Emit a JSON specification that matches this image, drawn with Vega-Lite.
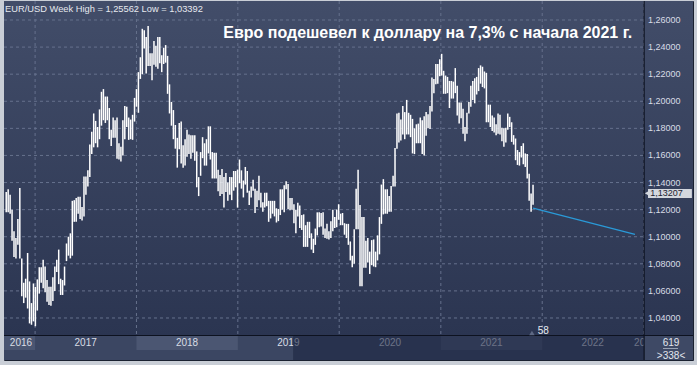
{
  "$schema": "https://vega.github.io/schema/vega-lite/v6.json",
  "width": 689,
  "height": 359,
  "autosize": {"type": "none"},
  "padding": {"left": 4, "top": 1, "right": 4, "bottom": 5},
  "background": "#c9ced6",
  "config": {"view": {"stroke": "#1a2130", "strokeWidth": 1}},
  "datasets": {
    "bars": [
      {"d":"2016-09-19","h":1.133,"l":1.118},{"d":"2016-09-26","h":1.135,"l":1.118},{"d":"2016-10-03","h":1.131,"l":1.117},{"d":"2016-10-10","h":1.120,"l":1.097},{"d":"2016-10-17","h":1.104,"l":1.085},{"d":"2016-10-24","h":1.099,"l":1.084},{"d":"2016-10-31","h":1.113,"l":1.094},{"d":"2016-11-07","h":1.136,"l":1.084},{"d":"2016-11-14","h":1.084,"l":1.056},{"d":"2016-11-21","h":1.066,"l":1.051},{"d":"2016-11-28","h":1.069,"l":1.055},{"d":"2016-12-05","h":1.088,"l":1.047},{"d":"2016-12-12","h":1.067,"l":1.036},{"d":"2016-12-19","h":1.051,"l":1.035},{"d":"2016-12-26","h":1.0655,"l":1.0375},
      {"d":"2017-01-02","h":1.063,"l":1.0339},{"d":"2017-01-09","h":1.0685,"l":1.0455},{"d":"2017-01-16","h":1.0775,"l":1.058},{"d":"2017-01-23","h":1.0775,"l":1.066},{"d":"2017-01-30","h":1.083,"l":1.062},{"d":"2017-02-06","h":1.078,"l":1.059},{"d":"2017-02-13","h":1.068,"l":1.052},{"d":"2017-02-20","h":1.063,"l":1.0495},{"d":"2017-02-27","h":1.063,"l":1.049},{"d":"2017-03-06","h":1.07,"l":1.0525},{"d":"2017-03-13","h":1.078,"l":1.06},{"d":"2017-03-20","h":1.083,"l":1.074},{"d":"2017-03-27","h":1.0905,"l":1.065},{"d":"2017-04-03","h":1.069,"l":1.057},{"d":"2017-04-10","h":1.068,"l":1.057},{"d":"2017-04-17","h":1.078,"l":1.064},{"d":"2017-04-24","h":1.095,"l":1.082},{"d":"2017-05-01","h":1.1,"l":1.086},{"d":"2017-05-08","h":1.1025,"l":1.084},{"d":"2017-05-15","h":1.1265,"l":1.086},{"d":"2017-05-22","h":1.127,"l":1.111},{"d":"2017-05-29","h":1.1285,"l":1.111},{"d":"2017-06-05","h":1.1295,"l":1.117},{"d":"2017-06-12","h":1.1295,"l":1.113},{"d":"2017-06-19","h":1.122,"l":1.112},{"d":"2017-06-26","h":1.1445,"l":1.115},{"d":"2017-07-03","h":1.1445,"l":1.131},{"d":"2017-07-10","h":1.149,"l":1.137},{"d":"2017-07-17","h":1.168,"l":1.144},{"d":"2017-07-24","h":1.1775,"l":1.161},{"d":"2017-07-31","h":1.191,"l":1.166},{"d":"2017-08-07","h":1.1855,"l":1.169},{"d":"2017-08-14","h":1.181,"l":1.166},{"d":"2017-08-21","h":1.194,"l":1.172},{"d":"2017-08-28","h":1.207,"l":1.182},{"d":"2017-09-04","h":1.209,"l":1.186},{"d":"2017-09-11","h":1.2035,"l":1.184},{"d":"2017-09-18","h":1.2035,"l":1.186},{"d":"2017-09-25","h":1.195,"l":1.172},{"d":"2017-10-02","h":1.179,"l":1.167},{"d":"2017-10-09","h":1.188,"l":1.173},{"d":"2017-10-16","h":1.186,"l":1.173},{"d":"2017-10-23","h":1.188,"l":1.1575},{"d":"2017-10-30","h":1.169,"l":1.157},{"d":"2017-11-06","h":1.1665,"l":1.1555},{"d":"2017-11-13","h":1.186,"l":1.16},{"d":"2017-11-20","h":1.1965,"l":1.172},{"d":"2017-11-27","h":1.196,"l":1.181},{"d":"2017-12-04","h":1.188,"l":1.1715},{"d":"2017-12-11","h":1.1865,"l":1.172},{"d":"2017-12-18","h":1.19,"l":1.1715},{"d":"2017-12-25","h":1.2025,"l":1.185},
      {"d":"2018-01-01","h":1.209,"l":1.196},{"d":"2018-01-08","h":1.2215,"l":1.1915},{"d":"2018-01-15","h":1.2325,"l":1.2165},{"d":"2018-01-22","h":1.2535,"l":1.22},{"d":"2018-01-29","h":1.2525,"l":1.239},{"d":"2018-02-05","h":1.2475,"l":1.2205},{"d":"2018-02-12","h":1.2556,"l":1.226},{"d":"2018-02-19","h":1.2355,"l":1.226},{"d":"2018-02-26","h":1.2355,"l":1.2155},{"d":"2018-03-05","h":1.2445,"l":1.227},{"d":"2018-03-12","h":1.241,"l":1.2255},{"d":"2018-03-19","h":1.2475,"l":1.224},{"d":"2018-03-26","h":1.2475,"l":1.228},{"d":"2018-04-02","h":1.234,"l":1.2215},{"d":"2018-04-09","h":1.2395,"l":1.2275},{"d":"2018-04-16","h":1.2415,"l":1.2285},{"d":"2018-04-23","h":1.2335,"l":1.2055},{"d":"2018-04-30","h":1.2125,"l":1.191},{"d":"2018-05-07","h":1.1995,"l":1.182},{"d":"2018-05-14","h":1.1935,"l":1.172},{"d":"2018-05-21","h":1.1825,"l":1.165},{"d":"2018-05-28","h":1.173,"l":1.151},{"d":"2018-06-04","h":1.184,"l":1.1645},{"d":"2018-06-11","h":1.185,"l":1.154},{"d":"2018-06-18","h":1.1675,"l":1.151},{"d":"2018-06-25","h":1.172,"l":1.1525},{"d":"2018-07-02","h":1.179,"l":1.159},{"d":"2018-07-09","h":1.1755,"l":1.161},{"d":"2018-07-16","h":1.175,"l":1.1575},{"d":"2018-07-23","h":1.175,"l":1.162},{"d":"2018-07-30","h":1.175,"l":1.156},{"d":"2018-08-06","h":1.163,"l":1.1365},{"d":"2018-08-13","h":1.144,"l":1.13},{"d":"2018-08-20","h":1.1625,"l":1.145},{"d":"2018-08-27","h":1.1735,"l":1.158},{"d":"2018-09-03","h":1.169,"l":1.1525},{"d":"2018-09-10","h":1.172,"l":1.1525},{"d":"2018-09-17","h":1.1815,"l":1.1615},{"d":"2018-09-24","h":1.1815,"l":1.157},{"d":"2018-10-01","h":1.1625,"l":1.143},{"d":"2018-10-08","h":1.162,"l":1.143},{"d":"2018-10-15","h":1.162,"l":1.143},{"d":"2018-10-22","h":1.1495,"l":1.1335},{"d":"2018-10-29","h":1.1455,"l":1.13},{"d":"2018-11-05","h":1.15,"l":1.1315},{"d":"2018-11-12","h":1.144,"l":1.1215},{"d":"2018-11-19","h":1.147,"l":1.133},{"d":"2018-11-26","h":1.14,"l":1.1265},{"d":"2018-12-03","h":1.144,"l":1.131},{"d":"2018-12-10","h":1.144,"l":1.127},{"d":"2018-12-17","h":1.1485,"l":1.134},{"d":"2018-12-24","h":1.1485,"l":1.1365},{"d":"2018-12-31","h":1.1495,"l":1.1215},
      {"d":"2019-01-07","h":1.157,"l":1.1395},{"d":"2019-01-14","h":1.149,"l":1.1355},{"d":"2019-01-21","h":1.1415,"l":1.129},{"d":"2019-01-28","h":1.1515,"l":1.1385},{"d":"2019-02-04","h":1.1485,"l":1.1325},{"d":"2019-02-11","h":1.134,"l":1.1235},{"d":"2019-02-18","h":1.137,"l":1.129},{"d":"2019-02-25","h":1.142,"l":1.134},{"d":"2019-03-04","h":1.1355,"l":1.1175},{"d":"2019-03-11","h":1.134,"l":1.122},{"d":"2019-03-18","h":1.145,"l":1.127},{"d":"2019-03-25","h":1.1325,"l":1.1215},{"d":"2019-04-01","h":1.1255,"l":1.1185},{"d":"2019-04-08","h":1.1325,"l":1.1215},{"d":"2019-04-15","h":1.1325,"l":1.1225},{"d":"2019-04-22","h":1.1265,"l":1.111},{"d":"2019-04-29","h":1.1265,"l":1.1135},{"d":"2019-05-06","h":1.1265,"l":1.117},{"d":"2019-05-13","h":1.1265,"l":1.115},{"d":"2019-05-20","h":1.121,"l":1.1105},{"d":"2019-05-27","h":1.1205,"l":1.1115},{"d":"2019-06-03","h":1.135,"l":1.116},{"d":"2019-06-10","h":1.135,"l":1.12},{"d":"2019-06-17","h":1.138,"l":1.118},{"d":"2019-06-24","h":1.141,"l":1.135},{"d":"2019-07-01","h":1.139,"l":1.1205},{"d":"2019-07-08","h":1.1285,"l":1.1195},{"d":"2019-07-15","h":1.1285,"l":1.12},{"d":"2019-07-22","h":1.124,"l":1.11},{"d":"2019-07-29","h":1.12,"l":1.1025},{"d":"2019-08-05","h":1.125,"l":1.115},{"d":"2019-08-12","h":1.123,"l":1.1065},{"d":"2019-08-19","h":1.116,"l":1.105},{"d":"2019-08-26","h":1.1165,"l":1.0925},{"d":"2019-09-02","h":1.1085,"l":1.0925},{"d":"2019-09-09","h":1.111,"l":1.0925},{"d":"2019-09-16","h":1.111,"l":1.099},{"d":"2019-09-23","h":1.1025,"l":1.0905},{"d":"2019-09-30","h":1.0985,"l":1.088},{"d":"2019-10-07","h":1.106,"l":1.094},{"d":"2019-10-14","h":1.118,"l":1.101},{"d":"2019-10-21","h":1.118,"l":1.107},{"d":"2019-10-28","h":1.1175,"l":1.1075},{"d":"2019-11-04","h":1.118,"l":1.1015},{"d":"2019-11-11","h":1.106,"l":1.099},{"d":"2019-11-18","h":1.1095,"l":1.0985},{"d":"2019-11-25","h":1.104,"l":1.098},{"d":"2019-12-02","h":1.1115,"l":1.099},{"d":"2019-12-09","h":1.12,"l":1.104},{"d":"2019-12-16","h":1.1145,"l":1.1065},{"d":"2019-12-23","h":1.12,"l":1.107},{"d":"2019-12-30","h":1.124,"l":1.1125},
      {"d":"2020-01-06","h":1.117,"l":1.1085},{"d":"2020-01-13","h":1.1175,"l":1.1085},{"d":"2020-01-20","h":1.11,"l":1.1015},{"d":"2020-01-27","h":1.1095,"l":1.099},{"d":"2020-02-03","h":1.1095,"l":1.094},{"d":"2020-02-10","h":1.0965,"l":1.0825},{"d":"2020-02-17","h":1.086,"l":1.0775},{"d":"2020-02-24","h":1.1055,"l":1.08},{"d":"2020-03-02","h":1.1355,"l":1.1055},{"d":"2020-03-09","h":1.1495,"l":1.1055},{"d":"2020-03-16","h":1.1235,"l":1.0635},{"d":"2020-03-23","h":1.1145,"l":1.0635},{"d":"2020-03-30","h":1.1145,"l":1.077},{"d":"2020-04-06","h":1.097,"l":1.077},{"d":"2020-04-13","h":1.099,"l":1.081},{"d":"2020-04-20","h":1.089,"l":1.0725},{"d":"2020-04-27","h":1.0975,"l":1.079},{"d":"2020-05-04","h":1.098,"l":1.078},{"d":"2020-05-11","h":1.089,"l":1.0775},{"d":"2020-05-18","h":1.101,"l":1.0825},{"d":"2020-05-25","h":1.1145,"l":1.087},{"d":"2020-06-01","h":1.1385,"l":1.1095},{"d":"2020-06-08","h":1.1425,"l":1.1165},{"d":"2020-06-15","h":1.135,"l":1.117},{"d":"2020-06-22","h":1.135,"l":1.117},{"d":"2020-06-29","h":1.13,"l":1.1185},{"d":"2020-07-06","h":1.1375,"l":1.1185},{"d":"2020-07-13","h":1.145,"l":1.137},{"d":"2020-07-20","h":1.1655,"l":1.137},{"d":"2020-07-27","h":1.191,"l":1.165},{"d":"2020-08-03","h":1.1915,"l":1.1695},{"d":"2020-08-10","h":1.1865,"l":1.171},{"d":"2020-08-17","h":1.1965,"l":1.1755},{"d":"2020-08-24","h":1.192,"l":1.172},{"d":"2020-08-31","h":1.201,"l":1.1755},{"d":"2020-09-07","h":1.1915,"l":1.1755},{"d":"2020-09-14","h":1.19,"l":1.1735},{"d":"2020-09-21","h":1.187,"l":1.1615},{"d":"2020-09-28","h":1.18,"l":1.161},{"d":"2020-10-05","h":1.183,"l":1.169},{"d":"2020-10-12","h":1.1835,"l":1.169},{"d":"2020-10-19","h":1.188,"l":1.169},{"d":"2020-10-26","h":1.186,"l":1.161},{"d":"2020-11-02","h":1.189,"l":1.16},{"d":"2020-11-09","h":1.192,"l":1.1745},{"d":"2020-11-16","h":1.1905,"l":1.18},{"d":"2020-11-23","h":1.1965,"l":1.1795},{"d":"2020-11-30","h":1.2175,"l":1.1925},{"d":"2020-12-07","h":1.2165,"l":1.206},{"d":"2020-12-14","h":1.2275,"l":1.2125},{"d":"2020-12-21","h":1.2275,"l":1.213},{"d":"2020-12-28","h":1.231,"l":1.2185},
      {"d":"2021-01-04","h":1.235,"l":1.219},{"d":"2021-01-11","h":1.2225,"l":1.2055},{"d":"2021-01-18","h":1.219,"l":1.2055},{"d":"2021-01-25","h":1.218,"l":1.206},{"d":"2021-02-01","h":1.215,"l":1.195},{"d":"2021-02-08","h":1.215,"l":1.202},{"d":"2021-02-15","h":1.2145,"l":1.202},{"d":"2021-02-22","h":1.2245,"l":1.206},{"d":"2021-03-01","h":1.2115,"l":1.1895},{"d":"2021-03-08","h":1.199,"l":1.1835},{"d":"2021-03-15","h":1.199,"l":1.1875},{"d":"2021-03-22","h":1.1945,"l":1.176},{"d":"2021-03-29","h":1.181,"l":1.1705},{"d":"2021-04-05","h":1.1915,"l":1.176},{"d":"2021-04-12","h":1.1995,"l":1.191},{"d":"2021-04-19","h":1.2115,"l":1.196},{"d":"2021-04-26","h":1.215,"l":1.201},{"d":"2021-05-03","h":1.217,"l":1.1985},{"d":"2021-05-10","h":1.218,"l":1.205},{"d":"2021-05-17","h":1.2245,"l":1.2075},{"d":"2021-05-24","h":1.2265,"l":1.213},{"d":"2021-05-31","h":1.2255,"l":1.2105},{"d":"2021-06-07","h":1.222,"l":1.2095},{"d":"2021-06-14","h":1.221,"l":1.1845},{"d":"2021-06-21","h":1.1975,"l":1.1845},{"d":"2021-06-28","h":1.1975,"l":1.181},{"d":"2021-07-05","h":1.1895,"l":1.178},{"d":"2021-07-12","h":1.188,"l":1.177},{"d":"2021-07-19","h":1.183,"l":1.175},{"d":"2021-07-26","h":1.191,"l":1.176},{"d":"2021-08-02","h":1.19,"l":1.1755},{"d":"2021-08-09","h":1.1805,"l":1.1705},{"d":"2021-08-16","h":1.18,"l":1.1665},{"d":"2021-08-23","h":1.1805,"l":1.1695},{"d":"2021-08-30","h":1.191,"l":1.179},{"d":"2021-09-06","h":1.1885,"l":1.181},{"d":"2021-09-13","h":1.1845,"l":1.17},{"d":"2021-09-20","h":1.175,"l":1.168},{"d":"2021-09-27","h":1.1725,"l":1.1565},{"d":"2021-10-04","h":1.164,"l":1.153},{"d":"2021-10-11","h":1.1625,"l":1.1525},{"d":"2021-10-18","h":1.167,"l":1.1585},{"d":"2021-10-25","h":1.169,"l":1.1535},{"d":"2021-11-01","h":1.1615,"l":1.1515},{"d":"2021-11-08","h":1.161,"l":1.143},{"d":"2021-11-15","h":1.1465,"l":1.1265},{"d":"2021-11-22","h":1.132,"l":1.1185},{"d":"2021-11-29","h":1.1383,"l":1.1236}
    ],
    "years": [
      {"year":"2016","start":"2016-01-01","end":"2017-01-01","mid":"2016-11-11"},
      {"year":"2017","start":"2017-01-01","end":"2018-01-01","mid":"2017-07-02"},
      {"year":"2018","start":"2018-01-01","end":"2019-01-01","mid":"2018-07-02"},
      {"year":"2019","start":"2019-01-01","end":"2020-01-01","mid":"2019-07-02"},
      {"year":"2020","start":"2020-01-01","end":"2021-01-01","mid":"2020-07-02"},
      {"year":"2021","start":"2021-01-01","end":"2022-01-01","mid":"2021-07-02"},
      {"year":"2022","start":"2022-01-01","end":"2023-01-01","mid":"2022-07-02"},
      {"year":"2023","start":"2023-01-01","end":"2024-01-01","mid":"2023-01-07"}
    ],
    "levels": [{"v":1.04,"t":"1,04000"},{"v":1.06,"t":"1,06000"},{"v":1.08,"t":"1,08000"},{"v":1.10,"t":"1,10000"},{"v":1.12,"t":"1,12000"},{"v":1.14,"t":"1,14000"},{"v":1.16,"t":"1,16000"},{"v":1.18,"t":"1,18000"},{"v":1.20,"t":"1,20000"},{"v":1.22,"t":"1,22000"},{"v":1.24,"t":"1,24000"},{"v":1.26,"t":"1,26000"}],
    "trend": [{"d":"2021-11-29","v":1.1211},{"d":"2022-12-01","v":1.1018}]
  },
  "layer": [
    {
      "data": {"values": [{}]},
      "mark": {"type": "rect", "fill": {"gradient": "linear", "x1": 0, "y1": 0, "x2": 0, "y2": 1, "stops": [{"offset": 0, "color": "#424d69"}, {"offset": 0.93, "color": "#2b3551"}, {"offset": 1, "color": "#2b3551"}]}},
      "encoding": {
        "x": {"datum": {"year": 2016, "month": 9, "date": 11}, "type": "temporal", "axis": null},
        "x2": {"datum": {"year": 2023, "month": 6, "date": 28}},
        "y": {"datum": 1.274027, "type": "quantitative", "axis": null},
        "y2": {"datum": 1.008984}
      }
    },
    {
      "data": {"values": [{}]},
      "mark": {"type": "rect", "fill": "#3b4662"},
      "encoding": {
        "x": {"datum": {"year": 2016, "month": 9, "date": 11}, "type": "temporal", "axis": null},
        "x2": {"datum": {"year": 2023, "month": 6, "date": 28}},
        "y": {"datum": 1.027072, "type": "quantitative", "axis": null},
        "y2": {"datum": 1.008984}
      }
    },
    {
      "data": {"name": "years"},
      "transform": [{"filter": "datum.year == '2016' || datum.year == '2018' || datum.year == '2021'"}],
      "mark": {"type": "rect", "fill": "#4b5672", "clip": true},
      "encoding": {
        "x": {"field": "start", "type": "temporal", "axis": null},
        "x2": {"field": "end"},
        "y": {"datum": 1.027072, "type": "quantitative", "axis": null},
        "y2": {"datum": 1.016366}
      }
    },
    {
      "data": {"name": "years"},
      "mark": {"type": "text", "font": "Liberation Sans", "fontSize": 10, "color": "#d9dde5", "align": "center", "baseline": "middle"},
      "encoding": {
        "x": {"field": "mid", "type": "temporal", "axis": null},
        "y": {"datum": 1.021166, "type": "quantitative", "axis": null},
        "text": {"field": "year", "type": "nominal"}
      }
    },
    {
      "data": {"values": [{}]},
      "mark": {"type": "rect", "fill": "#1b2440", "opacity": 0.58},
      "encoding": {
        "x": {"datum": {"year": 2019, "month": 7, "date": 19}, "type": "temporal", "axis": null},
        "x2": {"datum": {"year": 2023, "month": 1, "date": 3}},
        "y": {"datum": 1.027072, "type": "quantitative", "axis": null},
        "y2": {"datum": 1.008984}
      }
    },
    {
      "data": {"name": "levels"},
      "mark": {"type": "rule", "color": "#66718d", "strokeWidth": 1, "strokeDash": [3, 3]},
      "encoding": {
        "y": {"field": "v", "type": "quantitative", "axis": null},
        "x": {"datum": {"year": 2016, "month": 9, "date": 11}, "type": "temporal", "axis": null},
        "x2": {"datum": {"year": 2023, "month": 1, "date": 3}}
      }
    },
    {
      "data": {"name": "years"},
      "transform": [{"filter": "datum.year != '2016'"}],
      "mark": {"type": "rule", "color": "#66718d", "strokeWidth": 1},
      "encoding": {
        "x": {"field": "start", "type": "temporal", "axis": null},
        "y": {"datum": 1.274027, "type": "quantitative", "axis": null},
        "y2": {"datum": 1.027072},
        "strokeDash": {"value": [3, 3]}
      }
    },
    {
      "data": {"name": "levels"},
      "mark": {"type": "text", "font": "Liberation Sans", "fontSize": 9, "color": "#d8dde6", "align": "left", "baseline": "middle"},
      "encoding": {
        "x": {"datum": {"year": 2023, "month": 1, "date": 17}, "type": "temporal", "axis": null},
        "y": {"field": "v", "type": "quantitative", "axis": null},
        "text": {"field": "t", "type": "nominal"}
      }
    },
    {
      "data": {"name": "bars"},
      "mark": {"type": "rule", "color": "#ffffff", "strokeWidth": 1.5},
      "encoding": {
        "x": {"field": "d", "type": "temporal", "axis": null, "scale": {"domain": [{"year": 2016, "month": 9, "date": 11}, {"year": 2023, "month": 6, "date": 28}], "nice": false}},
        "y": {"field": "l", "type": "quantitative", "axis": null, "scale": {"domain": [1.008984, 1.274027], "nice": false, "zero": false}},
        "y2": {"field": "h"}
      }
    },
    {
      "data": {"name": "trend"},
      "mark": {"type": "line", "color": "#2a9ad8", "strokeWidth": 1.3},
      "encoding": {
        "x": {"field": "d", "type": "temporal", "axis": null},
        "y": {"field": "v", "type": "quantitative", "axis": null}
      }
    },
    {
      "data": {"values": [{}]},
      "mark": {"type": "rect", "fill": "#3e4965"},
      "encoding": {
        "x": {"datum": {"year": 2023, "month": 1, "date": 3}, "type": "temporal", "axis": null},
        "x2": {"datum": {"year": 2023, "month": 6, "date": 28}},
        "y": {"datum": 1.027072, "type": "quantitative", "axis": null},
        "y2": {"datum": 1.008984}
      }
    },
    {
      "data": {"values": [{"t": "619", "v": 1.021536}, {"t": ">338<", "v": 1.011936}]},
      "mark": {"type": "text", "font": "Liberation Sans", "fontSize": 10, "color": "#e3e7ee", "align": "center", "baseline": "middle"},
      "encoding": {
        "x": {"datum": {"year": 2023, "month": 4, "date": 10}, "type": "temporal", "axis": null},
        "y": {"field": "v", "type": "quantitative", "axis": null},
        "text": {"field": "t", "type": "nominal"}
      }
    },
    {
      "data": {"values": [{}]},
      "mark": {"type": "rule", "color": "#9aa3b5", "strokeWidth": 1},
      "encoding": {
        "x": {"datum": {"year": 2023, "month": 3, "date": 12}, "type": "temporal", "axis": null},
        "x2": {"datum": {"year": 2023, "month": 5, "date": 5}},
        "y": {"datum": 1.017476, "type": "quantitative", "axis": null}
      }
    },
    {
      "data": {"values": [{}]},
      "mark": {"type": "rule", "color": "#0d1220", "strokeWidth": 1.2},
      "encoding": {
        "x": {"datum": {"year": 2016, "month": 9, "date": 11}, "type": "temporal", "axis": null},
        "x2": {"datum": {"year": 2023, "month": 6, "date": 28}},
        "y": {"datum": 1.027072, "type": "quantitative", "axis": null}
      }
    },
    {
      "data": {"values": [{}]},
      "mark": {"type": "rule", "color": "#0d1220", "strokeWidth": 1.2},
      "encoding": {
        "x": {"datum": {"year": 2023, "month": 1, "date": 3}, "type": "temporal", "axis": null},
        "y": {"datum": 1.274027, "type": "quantitative", "axis": null},
        "y2": {"datum": 1.008984}
      }
    },
    {
      "data": {"values": [{"t": "EUR/USD Week High = 1,25562 Low = 1,03392"}]},
      "mark": {"type": "text", "font": "Liberation Sans", "fontSize": 9.3, "color": "#e6e9ef", "align": "left", "baseline": "alphabetic"},
      "encoding": {
        "x": {"datum": {"year": 2016, "month": 9, "date": 15}, "type": "temporal", "axis": null},
        "y": {"datum": 1.265906, "type": "quantitative", "axis": null},
        "text": {"field": "t", "type": "nominal"}
      }
    },
    {
      "data": {"values": [{"t": "Евро подешевел к доллару на 7,3% с начала 2021 г."}]},
      "mark": {"type": "text", "font": "Liberation Sans", "fontSize": 16, "fontWeight": "bold", "color": "#ffffff", "align": "right", "baseline": "alphabetic"},
      "encoding": {
        "x": {"datum": {"year": 2022, "month": 11, "date": 21}, "type": "temporal", "axis": null},
        "y": {"datum": 1.24671, "type": "quantitative", "axis": null},
        "text": {"field": "t", "type": "nominal"}
      }
    },
    {
      "data": {"values": [{}]},
      "mark": {"type": "rect", "fill": "#d3d7de"},
      "encoding": {
        "x": {"datum": {"year": 2023, "month": 1, "date": 17}, "type": "temporal", "axis": null},
        "x2": {"datum": {"year": 2023, "month": 6, "date": 24}},
        "y": {"datum": 1.135228, "type": "quantitative", "axis": null},
        "y2": {"datum": 1.128583}
      }
    },
    {
      "data": {"values": [{"v": 1.13207}]},
      "mark": {"type": "point", "shape": "triangle-left", "filled": true, "fill": "#d3d7de", "opacity": 1, "size": 45, "strokeWidth": 0},
      "encoding": {
        "x": {"datum": {"year": 2023, "month": 1, "date": 16}, "type": "temporal", "axis": null},
        "y": {"field": "v", "type": "quantitative", "axis": null}
      }
    },
    {
      "data": {"values": [{"v": 1.13207, "t": "1,13207"}]},
      "mark": {"type": "text", "font": "Liberation Sans", "fontSize": 9, "color": "#1c2230", "align": "left", "baseline": "middle"},
      "encoding": {
        "x": {"datum": {"year": 2023, "month": 1, "date": 25}, "type": "temporal", "axis": null},
        "y": {"field": "v", "type": "quantitative", "axis": null},
        "text": {"field": "t", "type": "nominal"}
      }
    },
    {
      "data": {"values": [{"v": 1.028918}]},
      "mark": {"type": "point", "shape": "triangle-up", "filled": true, "fill": "#5e6984", "opacity": 1, "size": 30, "strokeWidth": 0},
      "encoding": {
        "x": {"datum": {"year": 2021, "month": 11, "date": 25}, "type": "temporal", "axis": null},
        "y": {"field": "v", "type": "quantitative", "axis": null}
      }
    },
    {
      "data": {"values": [{"v": 1.030395, "t": "58"}]},
      "mark": {"type": "text", "font": "Liberation Sans", "fontSize": 10, "color": "#e6eaf0", "align": "center", "baseline": "middle"},
      "encoding": {
        "x": {"datum": {"year": 2022, "month": 1, "date": 5}, "type": "temporal", "axis": null},
        "y": {"field": "v", "type": "quantitative", "axis": null},
        "text": {"field": "t", "type": "nominal"}
      }
    }
  ]
}
